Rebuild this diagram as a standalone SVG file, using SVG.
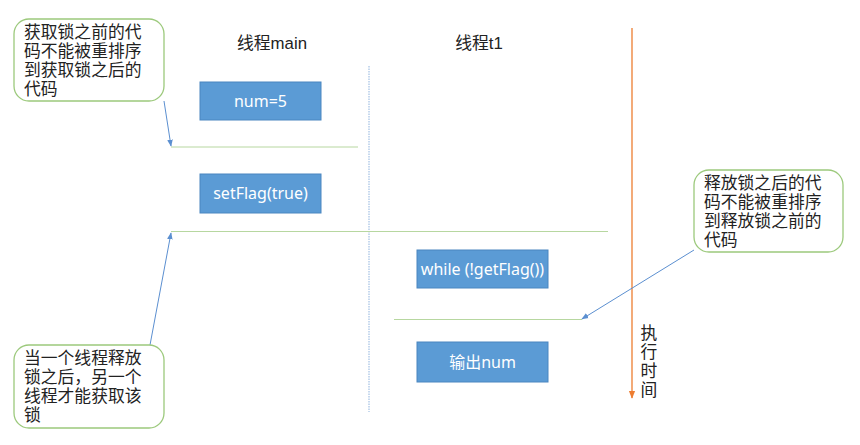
<svg xmlns="http://www.w3.org/2000/svg" width="860" height="445" viewBox="0 0 860 445">
<defs>
<style>
.t{font-family:"Liberation Sans","Noto Sans CJK SC",sans-serif;font-size:16.8px;fill:#222}
.bt{font-family:"Noto Sans","Noto Sans CJK SC",sans-serif;font-size:16px;fill:#fff;text-anchor:middle}
.box{fill:#5b9bd5;stroke:#4a86c0;stroke-width:1}
.call{fill:#fff;stroke:#9cc97c;stroke-width:1.3}
.sep{stroke:#b7d7a0;stroke-width:1;fill:none}
.lane{stroke:#8fb3dd;stroke-width:1;stroke-dasharray:1.5 1;fill:none}
.arr{stroke:#5b8fd0;stroke-width:1;fill:none;marker-end:url(#ab)}
</style>
<marker id="ab" viewBox="0 0 10 10" refX="9" refY="5" markerWidth="7" markerHeight="7" orient="auto"><path d="M0,1 L10,5 L0,9 z" fill="#5b8fd0"/></marker>
<marker id="ao" viewBox="0 0 10 10" refX="9" refY="5" markerWidth="6" markerHeight="6" orient="auto"><path d="M0,1 L10,5 L0,9 z" fill="#ed7d31"/></marker>
</defs>
<rect width="860" height="445" fill="#fff"/>
<g id="connectors">
<line class="lane" x1="369" y1="66" x2="369" y2="412"/>
<line class="sep" x1="171" y1="147" x2="358" y2="147"/>
<line class="sep" x1="171" y1="231.5" x2="608" y2="231.5"/>
<line class="sep" x1="394" y1="319.5" x2="582" y2="319.5"/>
<line x1="632" y1="28" x2="632" y2="398" stroke="#ed7d31" stroke-width="1.3" marker-end="url(#ao)"/>
<line class="arr" x1="164" y1="101" x2="171" y2="146"/>
<line class="arr" x1="150" y1="345" x2="171" y2="233"/>
<line class="arr" x1="694" y1="250" x2="582" y2="319"/>
</g>
<g id="label-main"><text class="t" x="272" y="49" text-anchor="middle">线程main</text></g>
<g id="label-t1"><text class="t" x="479" y="49" text-anchor="middle">线程t1</text></g>
<g id="node-num5"><rect class="box" x="200" y="82" width="121" height="38"/><text class="bt" x="260.5" y="107">num=5</text></g>
<g id="node-setflag"><rect class="box" x="200" y="174" width="121" height="39"/><text class="bt" x="260.5" y="199">setFlag(true)</text></g>
<g id="node-while"><rect class="box" x="417" y="250" width="131" height="38"/><text class="bt" x="482.5" y="275">while (!getFlag())</text></g>
<g id="node-output"><rect class="box" x="417" y="342" width="131" height="40"/><text class="bt" x="482.5" y="368">输出num</text></g>
<g id="note-acquire">
<rect class="call" x="14" y="19" width="150" height="82" rx="15"/>
<text class="t" x="24" y="38"><tspan x="24">获取锁之前的代</tspan><tspan x="24" dy="19">码不能被重排序</tspan><tspan x="24" dy="19">到获取锁之后的</tspan><tspan x="24" dy="19">代码</tspan></text>
</g>
<g id="note-lock">
<rect class="call" x="14" y="345" width="150" height="83" rx="15"/>
<text class="t" x="24" y="364"><tspan x="24">当一个线程释放</tspan><tspan x="24" dy="19">锁之后，另一个</tspan><tspan x="24" dy="19">线程才能获取该</tspan><tspan x="24" dy="19">锁</tspan></text>
</g>
<g id="note-release">
<rect class="call" x="694" y="170" width="149" height="82" rx="15"/>
<text class="t" x="704" y="189"><tspan x="704">释放锁之后的代</tspan><tspan x="704" dy="19">码不能被重排序</tspan><tspan x="704" dy="19">到释放锁之前的</tspan><tspan x="704" dy="19">代码</tspan></text>
</g>
<g id="label-time">
<text class="t" x="649" y="339" text-anchor="middle"><tspan x="649">执</tspan><tspan x="649" dy="19">行</tspan><tspan x="649" dy="19">时</tspan><tspan x="649" dy="19">间</tspan></text>
</g>
</svg>
